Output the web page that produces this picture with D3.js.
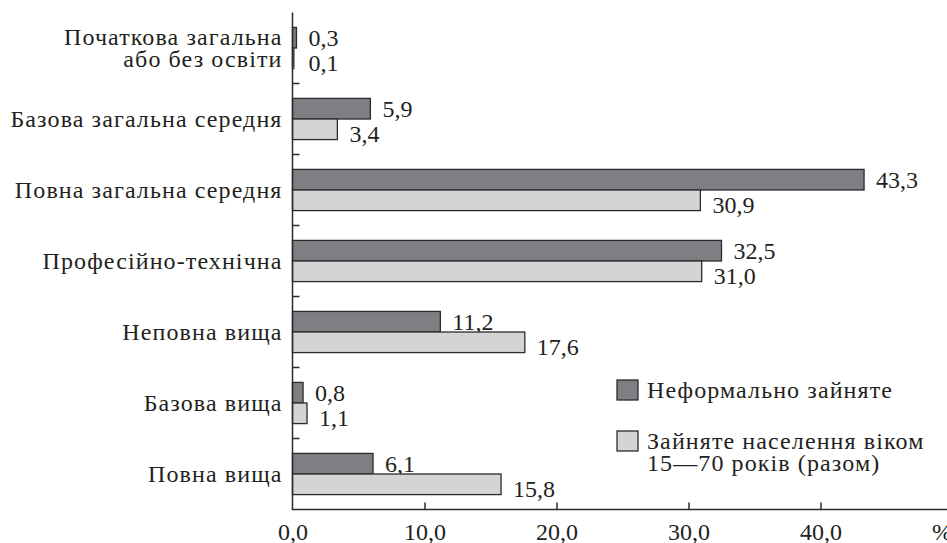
<!DOCTYPE html>
<html>
<head>
<meta charset="utf-8">
<script src="https://cdn.jsdelivr.net/npm/d3@7"></script>
<style>
  html, body { margin: 0; padding: 0; background: #fff; }
  svg { display: block; }
</style>
</head>
<body>
<svg id="chart" width="947" height="543"></svg>
<script>
const categories = [
  ["Початкова загальна", "або без освіти"],
  ["Базова загальна середня"],
  ["Повна загальна середня"],
  ["Професійно-технічна"],
  ["Неповна вища"],
  ["Базова вища"],
  ["Повна вища"]
];
const informal = [0.3, 5.9, 43.3, 32.5, 11.2, 0.8, 6.1];
const employedTotal = [0.1, 3.4, 30.9, 31.0, 17.6, 1.1, 15.8];
const seriesNames = [["Неформально зайняте"], ["Зайняте населення віком", "15—70 років (разом)"]];
const xTicks = [0, 10, 20, 30, 40];
const unitLabel = "%";

const FONT = "Liberation Serif, Times New Roman, Times, serif";
const svg = d3.select("#chart").attr("font-family", FONT);
const W = 947, H = 543;
const x0 = 292.5, yTop = 12.5, yBot = 509.5;
const colors = ["#7e7f83", "#d3d4d6"];
const strokeC = "#2b2b2b";
const textC = "#231f20";
const fontSize = 24;
const fmt = v => v.toFixed(1).replace(".", ",");

const x = d3.scaleLinear().domain([0, 50]).range([x0, x0 + 660]);
const idx = d3.range(categories.length);
const y = d3.scaleBand().domain(idx).range([yTop, yBot]).padding(0);
const bw = y.bandwidth();
const barH = bw * 0.29;
const offTop = (bw - 2 * barH) / 2;

function txt(sel) {
  return sel.style("font-family", FONT).attr("font-size", fontSize).attr("fill", textC);
}

// bars
const series = [informal, employedTotal];
series.forEach((vals, s) => {
  svg.append("g").selectAll("rect").data(vals).join("rect")
    .attr("x", x(0))
    .attr("y", (d, i) => y(i) + offTop + s * barH)
    .attr("width", d => x(d) - x(0))
    .attr("height", barH)
    .attr("fill", colors[s])
    .attr("stroke", strokeC)
    .attr("stroke-width", 1.3);
  svg.append("g").selectAll("text").data(vals).join("text")
    .call(txt)
    .attr("x", d => x(Math.max(d, 0.3)) + 12)
    .attr("y", (d, i) => y(i) + offTop + (s + 1) * barH + (s === 0 ? -2 : 2))
    .text(d => fmt(d));
});

// y axis line + ticks
svg.append("line").attr("x1", x0).attr("x2", x0).attr("y1", yTop).attr("y2", yBot)
  .attr("stroke", strokeC).attr("stroke-width", 1.5);
svg.append("g").selectAll("line").data(idx.slice(1)).join("line")
  .attr("x1", x0).attr("x2", x0 + 7)
  .attr("y1", d => y(d)).attr("y2", d => y(d))
  .attr("stroke", strokeC).attr("stroke-width", 1.5);

// category labels
const catG = svg.append("g");
idx.forEach(i => {
  const lines = categories[i];
  const cy = y(i) + bw / 2;
  const lh = 22;
  const t = catG.append("text").call(txt).attr("text-anchor", "end")
    .attr("letter-spacing", 1.1);
  lines.forEach((ln, k) => {
    t.append("tspan").attr("x", 282.5)
      .attr("y", cy + 8 + (k - (lines.length - 1) / 2) * lh)
      .text(ln);
  });
});

// x axis
const xAxis = d3.axisBottom(x).tickValues(xTicks).tickSize(-7).tickFormat(fmt);
const gx = svg.append("g").attr("transform", `translate(0,${yBot})`).call(xAxis)
  .attr("font-family", FONT).attr("font-size", fontSize);
gx.select(".domain").remove();
gx.selectAll(".tick line").attr("stroke", strokeC).attr("stroke-width", 1.5)
  .filter(d => d === 0).remove();
gx.selectAll(".tick text").call(txt).attr("dy", null).attr("y", 30);
svg.append("line").attr("x1", x0 - 0.75).attr("x2", W).attr("y1", yBot).attr("y2", yBot)
  .attr("stroke", strokeC).attr("stroke-width", 1.5);
svg.append("text").call(txt).attr("x", 932).attr("y", yBot + 30).text(unitLabel);

// legend
const legY = [380, 431];
seriesNames.forEach((lines, s) => {
  svg.append("rect").attr("x", 617).attr("y", legY[s]).attr("width", 21).attr("height", 20)
    .attr("fill", colors[s]).attr("stroke", strokeC).attr("stroke-width", 1.3);
  const t = svg.append("text").call(txt).attr("letter-spacing", 1.1);
  lines.forEach((ln, k) => {
    t.append("tspan").attr("x", 647).attr("y", legY[s] + 18 + k * 22).text(ln);
  });
});
</script>
</body>
</html>
